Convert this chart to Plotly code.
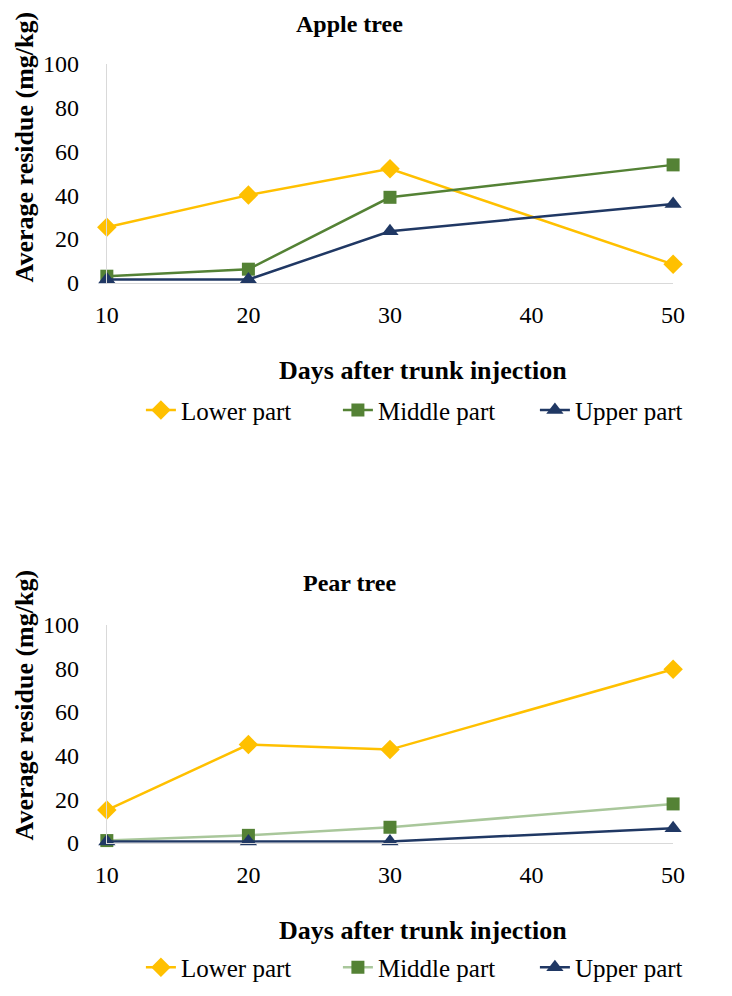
import plotly.graph_objects as go

days = [10, 20, 30, 50]
series_names = ["Lower part", "Middle part", "Upper part"]

apple_lower = [25.3, 40, 52, 8.4]
apple_middle = [3, 6.2, 39, 53.8]
apple_upper = [1.5, 1.5, 23.5, 36]

pear_lower = [15, 45, 42.7, 79.5]
pear_middle = [1, 3.4, 7.1, 17.8]
pear_upper = [0.6, 0.6, 0.6, 6.7]

y_ticks = [0, 20, 40, 60, 80, 100]
x_ticks = [10, 20, 30, 40, 50]

FONT = "Liberation Serif"
C_LOW = "#FFC000"
C_MID = "#548235"
C_MID_LIGHT = "#A9C79B"
C_UP = "#203864"

W, H = 732, 996

fig = go.Figure()

def add_series(xref, yref, legend, ys, name, line_color, marker_color, symbol, msize):
    fig.add_trace(go.Scatter(
        x=days, y=ys, name=name, mode="lines+markers",
        xaxis=xref, yaxis=yref, legend=legend,
        line=dict(color=line_color, width=2.5),
        marker=dict(color=marker_color, symbol=symbol, size=msize),
        cliponaxis=False,
    ))

add_series("x", "y", "legend", apple_lower, series_names[0], C_LOW, C_LOW, "diamond", 15)
add_series("x", "y", "legend", apple_middle, series_names[1], C_MID, C_MID, "square", 13)
add_series("x", "y", "legend", apple_upper, series_names[2], C_UP, C_UP, "triangle-up", 15)
add_series("x2", "y2", "legend2", pear_lower, series_names[0], C_LOW, C_LOW, "diamond", 15)
add_series("x2", "y2", "legend2", pear_middle, series_names[1], C_MID_LIGHT, C_MID, "square", 13)
add_series("x2", "y2", "legend2", pear_upper, series_names[2], C_UP, C_UP, "triangle-up", 15)

def px_x(p):
    return p / W

def px_y(p):
    return 1 - p / H

xdom = [px_x(103), px_x(718)]
common_x = dict(range=[10, 50], tickvals=x_ticks, showgrid=False, zeroline=False,
                showline=True, linecolor="#D9D9D9", linewidth=1,
                tickfont=dict(family=FONT, size=24, color="#000"), ticks="",
                ticklabelstandoff=10)
common_y = dict(range=[0, 100], tickvals=y_ticks, showgrid=False, zeroline=False,
                showline=True, linecolor="#D9D9D9", linewidth=1,
                tickfont=dict(family=FONT, size=24, color="#000"), ticks="",
                ticklabelstandoff=22)

legend_common = dict(orientation="h", font=dict(family=FONT, size=25, color="#000"),
                     xanchor="left", yanchor="middle", bgcolor="rgba(0,0,0,0)",
                     entrywidth=152, entrywidthmode="pixels", traceorder="normal")

fig.update_layout(
    width=W, height=H, margin=dict(l=0, r=0, t=0, b=0),
    paper_bgcolor="white", plot_bgcolor="white",
    showlegend=True,
    xaxis=dict(domain=xdom, anchor="y", **common_x),
    yaxis=dict(domain=[px_y(277), px_y(52)], anchor="x", **common_y),
    xaxis2=dict(domain=xdom, anchor="y2", **common_x),
    yaxis2=dict(domain=[px_y(852), px_y(628)], anchor="x2", **common_y),
    legend=dict(x=px_x(140), y=px_y(408), **legend_common),
    legend2=dict(x=px_x(140), y=px_y(980), **legend_common),
)

def ann(text, xp, yp, size, bold=True, angle=0):
    fig.add_annotation(
        text=f"<b>{text}</b>" if bold else text,
        x=px_x(xp), y=px_y(yp), xref="paper", yref="paper",
        showarrow=False, textangle=angle, xanchor="center", yanchor="middle",
        font=dict(family=FONT, size=size, color="#000"),
    )

ann("Apple tree", 367, 11, 24)
ann("Days after trunk injection", 446, 367, 26)
ann("Average residue (mg/kg)", 13, 137, 26, angle=-90)
ann("Pear tree", 367, 585, 24)
ann("Days after trunk injection", 446, 942, 26)
ann("Average residue (mg/kg)", 13, 710, 26, angle=-90)

fig.write_html("out.html")
